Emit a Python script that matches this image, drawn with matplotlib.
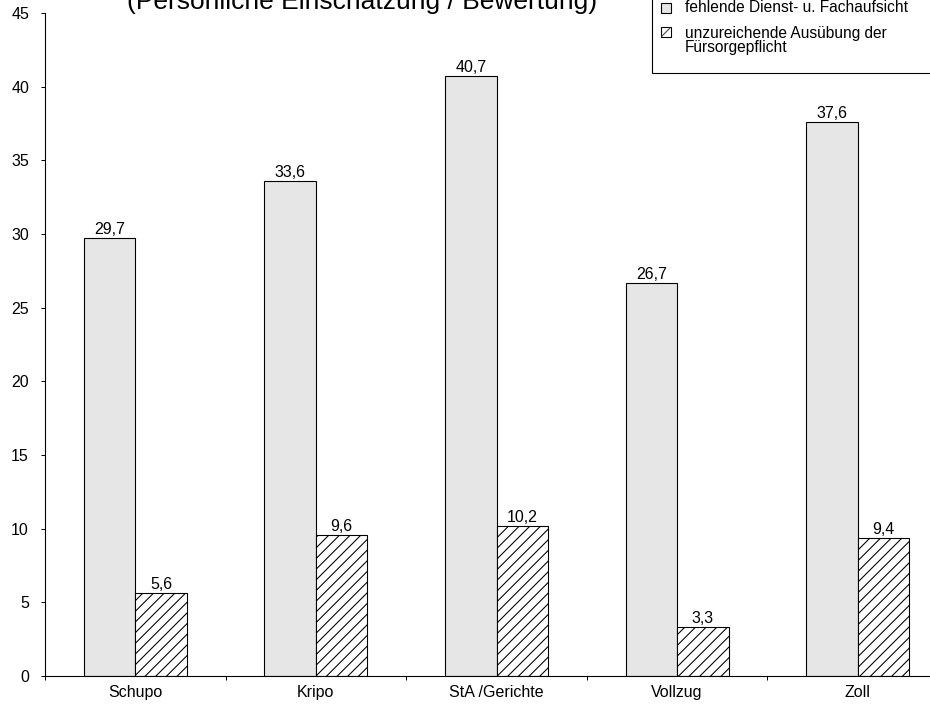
import matplotlib
matplotlib.use("Agg")
import matplotlib.pyplot as plt
from matplotlib.patches import Rectangle
from matplotlib.lines import Line2D
from matplotlib.ticker import FixedLocator, NullFormatter, FixedFormatter
import numpy as np

categories = ["Schupo", "Kripo", "StA /Gerichte", "Vollzug", "Zoll"]
fehlende_aufsicht = [29.7, 33.6, 40.7, 26.7, 37.6]
fuersorgepflicht = [5.6, 9.6, 10.2, 3.3, 9.4]
series_labels = ["fehlende Dienst- u. Fachaufsicht",
                 "unzureichende Ausübung der\nFürsorgepflicht"]
title_text = "(Persönliche Einschätzung / Bewertung)"
y_ticks = [0, 5, 10, 15, 20, 25, 30, 35, 40, 45]

DPI = 128
W, H = 930, 704
plt.rcParams["font.family"] = ["Liberation Sans", "DejaVu Sans"]
plt.rcParams["hatch.linewidth"] = 0.6
plt.rcParams["hatch.color"] = "#333333"

def px(v):
    return v * 72.0 / DPI

fs = px(16)

fig = plt.figure(figsize=(W / DPI, H / DPI), dpi=DPI)
fig.patch.set_facecolor("white")

# axes frame in pixel terms (right side runs past the figure edge)
left, right, top, bottom = 45, 948, 13, 676
ax = fig.add_axes([left / W, 1 - bottom / H, (right - left) / W, (bottom - top) / H])

x = np.arange(len(categories))
bw = 0.285
ax.bar(x - bw / 2, fehlende_aufsicht, bw, color="#e6e6e6",
       edgecolor="black", linewidth=px(1.1))
ax.bar(x + bw / 2, fuersorgepflicht, bw, color="white",
       edgecolor="black", linewidth=px(1.1), hatch="////")

def fmt(v):
    return f"{v:.1f}".replace(".", ",")

for xi, v in zip(x - bw / 2, fehlende_aufsicht):
    ax.annotate(fmt(v), (xi, v), xytext=(0, px(4)), textcoords="offset points",
                ha="center", va="baseline", fontsize=fs)
for xi, v in zip(x + bw / 2, fuersorgepflicht):
    ax.annotate(fmt(v), (xi, v), xytext=(0, px(4)), textcoords="offset points",
                ha="center", va="baseline", fontsize=fs)

ax.set_xlim(-0.5, len(categories) - 0.5)
ax.set_ylim(0, 45)
ax.set_yticks(y_ticks)
ax.set_yticklabels([str(t) for t in y_ticks], fontsize=fs)
ax.tick_params(axis="y", direction="out", length=px(4), width=px(1), pad=px(12))

# category boundaries carry the ticks, names sit at the centres
ax.xaxis.set_major_locator(FixedLocator(np.arange(len(categories) + 1) - 0.5))
ax.xaxis.set_major_formatter(NullFormatter())
ax.xaxis.set_minor_locator(FixedLocator(x))
ax.xaxis.set_minor_formatter(FixedFormatter(categories))
ax.tick_params(axis="x", which="major", direction="out", length=px(4), width=px(1))
ax.tick_params(axis="x", which="minor", length=0, pad=px(9), labelsize=fs)

for s in ["top", "right"]:
    ax.spines[s].set_visible(False)
for s in ["left", "bottom"]:
    ax.spines[s].set_linewidth(px(1.1))

fig.text(362.5 / W, 1 - 9 / H, title_text, ha="center", va="baseline",
         fontsize=px(26.4))

# legend box drawn in pixel coordinates, running off the top-right corner
def fx(p):
    return p / W

def fy(p):
    return 1 - p / H

fig.patches.append(Rectangle((fx(652), fy(73)), fx(400), 200 / H, transform=fig.transFigure,
                             facecolor="white", edgecolor="black", linewidth=px(1.1),
                             clip_on=False, zorder=5))
sq = 10
fig.patches.append(Rectangle((fx(661), fy(3 + sq)), sq / W, sq / H, transform=fig.transFigure,
                             facecolor="#e6e6e6", edgecolor="black", linewidth=px(1.1),
                             zorder=6))
fig.patches.append(Rectangle((fx(661), fy(27 + sq)), sq / W, sq / H, transform=fig.transFigure,
                             facecolor="white", edgecolor="black", linewidth=px(1.1),
                             zorder=6))
fig.lines.append(Line2D([fx(662), fx(670)], [fy(36), fy(28)], transform=fig.transFigure,
                        color="#555555", linewidth=px(1.2), zorder=7))
fig.text(fx(685), fy(8), series_labels[0], ha="left", va="center", fontsize=px(15.5), zorder=7)
fig.text(fx(685), fy(40.5), series_labels[1], ha="left", va="center", fontsize=px(15.5),
         linespacing=0.92, zorder=7)

fig.savefig("out.png", dpi=DPI)
